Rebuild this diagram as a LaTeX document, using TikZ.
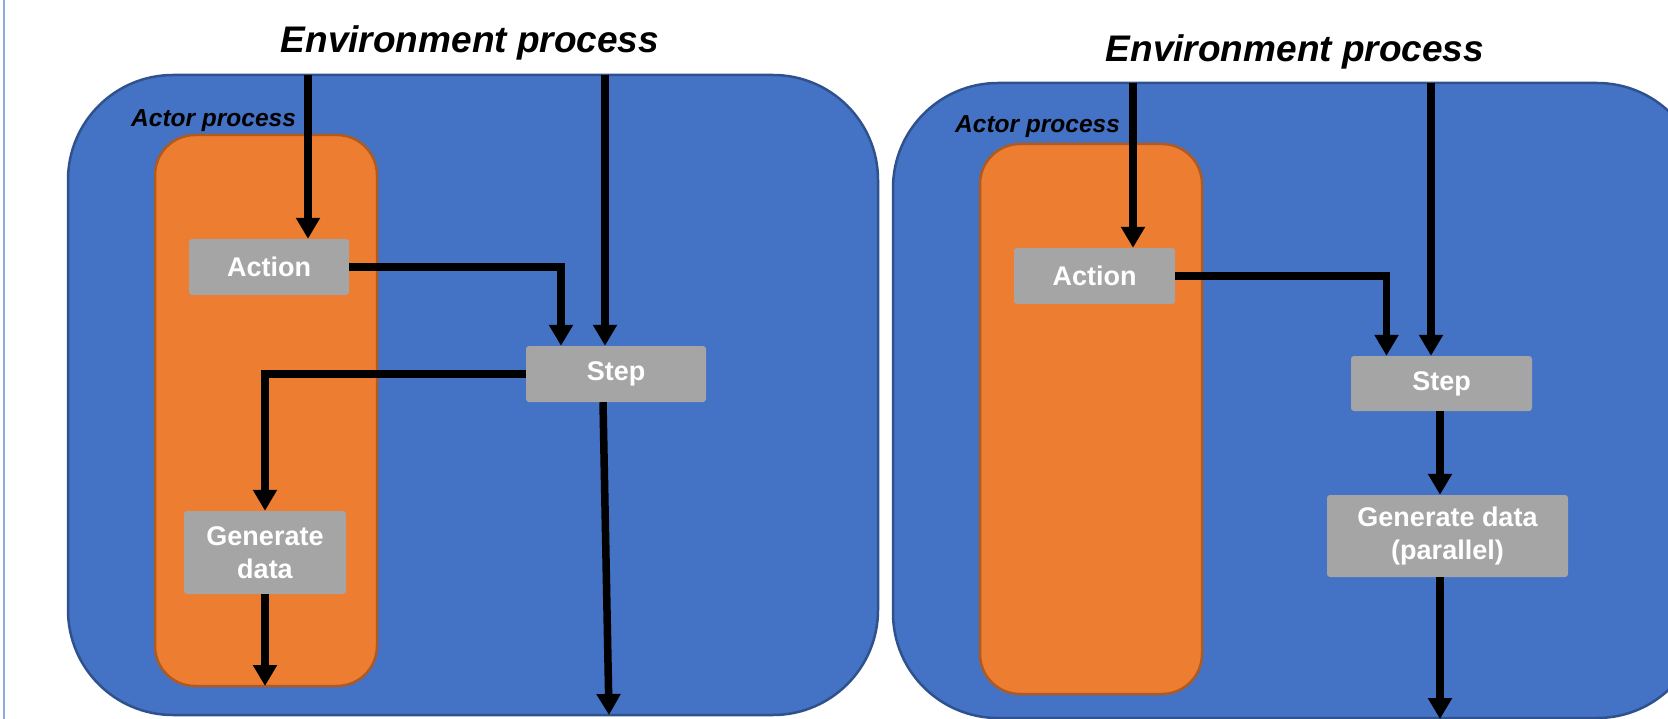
\documentclass[tikz,border=0pt]{standalone}
\usepackage{fontspec}
\setmainfont{Liberation Sans}
\usetikzlibrary{arrows.meta,calc}
\definecolor{envblue}{HTML}{4472C4}
\definecolor{envedge}{HTML}{2F528F}
\definecolor{actorange}{HTML}{ED7D31}
\definecolor{actedge}{HTML}{AE5A21}
\definecolor{boxgray}{HTML}{A5A5A5}
\definecolor{sideline}{HTML}{8FAADC}
\tikzset{
  envbox/.style={fill=envblue,draw=envedge,line width=2.5pt,rounded corners=105pt},
  actbox/.style={fill=actorange,draw=actedge,line width=2.5pt,rounded corners=40pt},
  procbox/.style={fill=boxgray,rounded corners=3pt,text=white,inner sep=0pt,align=center,
    font=\fontsize{27}{33}\selectfont\bfseries},
  arr/.style={line width=7.5pt,-{Triangle[width=23pt,length=21pt]}},
  titletext/.style={font=\fontsize{37}{42}\selectfont\bfseries\itshape,anchor=base,inner sep=0pt},
  actortext/.style={font=\fontsize{24.5}{28}\selectfont\bfseries\itshape,anchor=base west,inner sep=0pt}
}
\begin{document}
\begin{tikzpicture}[x=1pt,y=-1pt]
\clip (0,0) rectangle (1668,719);
\fill[white] (0,0) rectangle (1668,719);
\draw[sideline,line width=1.5pt] (4,0) -- (4,719);

% ---------- left panel ----------
\node[titletext] (titleL) at (470,53) {Environment process};
\draw[envbox] (68,75) rectangle (878,715);
\node[actortext] (actorL) at (131,127) {Actor process};
\draw[actbox] (155,135) rectangle (377,686);

\node[procbox,minimum width=160pt,minimum height=56pt] (aL) at (269,267) {Action};
\node[procbox,minimum width=180pt,minimum height=56pt] (sL) at (616,374) {Step};
\node[procbox,minimum width=162pt,minimum height=83pt] (gL) at (265,552.5) {Generate\\data};

\coordinate (envL1) at (308,75);
\coordinate (envL2) at (605,75);
\coordinate (outL1) at (265,686);
\coordinate (outL2) at (609,715);

\draw[arr] (envL1) -- (envL1 |- aL.north);
\draw[arr] (aL.east) -| ([xshift=-55pt]sL.north);
\draw[arr] (envL2) -- (envL2 |- sL.north);
\draw[arr] (sL.west) -| (gL.north);
\draw[arr] (gL.south) -- (outL1);
\draw[arr] ([xshift=-13pt]sL.south) -- (outL2);

% ---------- right panel ----------
\node[titletext] (titleR) at (1295,62) {Environment process};
\draw[envbox] (893,83) rectangle (1702,718);
\node[actortext] (actorR) at (955,133) {Actor process};
\draw[actbox] (980,144) rectangle (1202,694);

\node[procbox,minimum width=161pt,minimum height=56pt] (aR) at (1094.5,276) {Action};
\node[procbox,minimum width=181pt,minimum height=55pt] (sR) at (1441.5,383.5) {Step};
\node[procbox,minimum width=241pt,minimum height=82pt] (gR) at (1447.5,536) {Generate data\\(parallel)};

\coordinate (envR1) at (1133,83);
\coordinate (envR2) at (1431,83);
\coordinate (outR) at (1440,719);

\draw[arr] (envR1) -- (envR1 |- aR.north);
\draw[arr] (aR.east) -| ([xshift=-55pt]sR.north);
\draw[arr] (envR2) -- (envR2 |- sR.north);
\draw[arr] ([xshift=-1.5pt]sR.south) -- ([xshift=-1.5pt]sR.south |- gR.north);
\draw[arr] ([xshift=-7.5pt]gR.south) -- (outR);
\end{tikzpicture}
\end{document}
